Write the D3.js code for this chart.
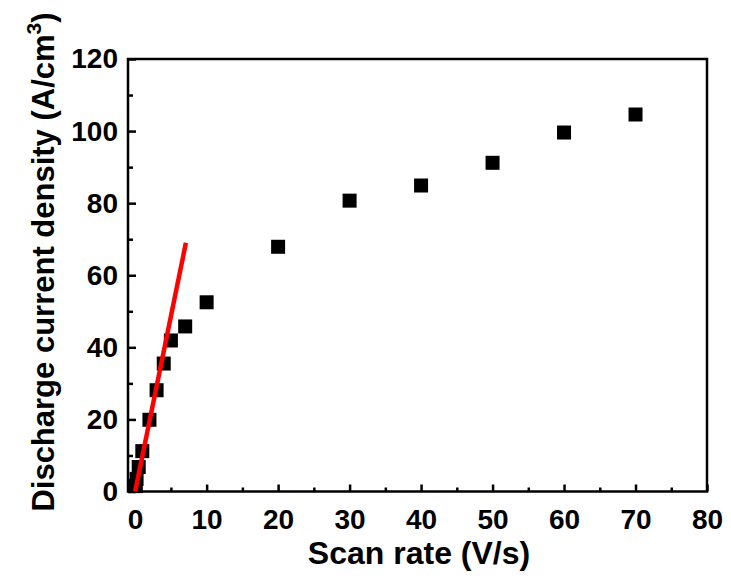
<!DOCTYPE html>
<html>
<head>
<meta charset="utf-8">
<script src="https://cdn.jsdelivr.net/npm/d3@7"></script>
<style>
  html, body { margin: 0; padding: 0; background: #fff; }
  svg { display: block; }
  text { font-family: "Liberation Sans", Arial, sans-serif; font-weight: bold; fill: #000; }
</style>
</head>
<body>
<svg id="chart" width="731" height="585"></svg>
<script>
// Measured discharge current density versus scan rate
const scanRate = [0.1, 0.2, 0.5, 1, 2, 3, 4, 5, 7, 10, 20, 30, 40, 50, 60, 70];
const currentDensity = [1.5, 3.5, 6.8, 11.2, 19.9, 28.1, 35.5, 41.9, 45.8, 52.5, 67.9, 80.7, 84.9, 91.2, 99.6, 104.6];

// Linear fit through the low scan-rate region
const fitX = [0, 7.1];
const fitY = [0, 69];

const xMajorTicks = [0, 10, 20, 30, 40, 50, 60, 70, 80];
const xMinorTicks = [5, 15, 25, 35, 45, 55, 65, 75];
const yMajorTicks = [0, 20, 40, 60, 80, 100, 120];
const yMinorTicks = [10, 30, 50, 70, 90, 110];

const xTitle = "Scan rate (V/s)";
const yTitle = "Discharge current density (A/cm";

const svg = d3.select("#chart");
const plot = { left: 128, right: 707, top: 59, bottom: 491.5 };

const x = d3.scaleLinear().domain([-1, 80]).range([plot.left, plot.right]);
const y = d3.scaleLinear().domain([0, 120]).range([plot.bottom, plot.top]);

// Bottom axis: inward ticks
const gx = svg.append("g").attr("transform", `translate(0,${plot.bottom})`);
gx.call(d3.axisBottom(x).tickValues(xMajorTicks).tickSize(-7).tickPadding(17.5).tickFormat(d3.format("d")));
const gxm = svg.append("g").attr("transform", `translate(0,${plot.bottom})`);
gxm.call(d3.axisBottom(x).tickValues(xMinorTicks).tickSize(-4).tickFormat(""));

// Left axis: inward ticks
const gy = svg.append("g").attr("transform", `translate(${plot.left},0)`);
gy.call(d3.axisLeft(y).tickValues(yMajorTicks).tickSize(-8).tickPadding(10).tickFormat(d3.format("d")));
const gym = svg.append("g").attr("transform", `translate(${plot.left},0)`);
gym.call(d3.axisLeft(y).tickValues(yMinorTicks).tickSize(-5).tickFormat(""));

[gx, gxm, gy, gym].forEach(g => {
  g.select(".domain").remove();
  g.selectAll(".tick line").attr("stroke", "#000").attr("stroke-width", 2.5);
  g.selectAll(".tick text").attr("font-size", 28);
});

// Frame
svg.append("rect")
  .attr("x", plot.left).attr("y", plot.top)
  .attr("width", plot.right - plot.left).attr("height", plot.bottom - plot.top)
  .attr("fill", "none").attr("stroke", "#000").attr("stroke-width", 2.5);

// Data markers
const size = 14;
svg.append("g").selectAll("rect")
  .data(scanRate.map((d, i) => [d, currentDensity[i]]))
  .join("rect")
  .attr("x", d => x(d[0]) - size / 2)
  .attr("y", d => y(d[1]) - size / 2)
  .attr("width", size).attr("height", size)
  .attr("fill", "#000");

// Fit line
svg.append("path")
  .datum(fitX.map((d, i) => [d, fitY[i]]))
  .attr("d", d3.line().x(d => x(d[0])).y(d => y(d[1])))
  .attr("fill", "none").attr("stroke", "#ff0000").attr("stroke-width", 4.5);

// Axis titles
svg.append("text")
  .attr("x", 419).attr("y", 564)
  .attr("text-anchor", "middle").attr("font-size", 32)
  .text(xTitle);

const yt = svg.append("text")
  .attr("transform", "translate(54,262) rotate(-90)")
  .attr("text-anchor", "middle").attr("font-size", 31);
yt.append("tspan").text(yTitle);
yt.append("tspan").attr("font-size", 21).attr("dy", -13).text("3");
yt.append("tspan").attr("dy", 13).text(")");
</script>
</body>
</html>
